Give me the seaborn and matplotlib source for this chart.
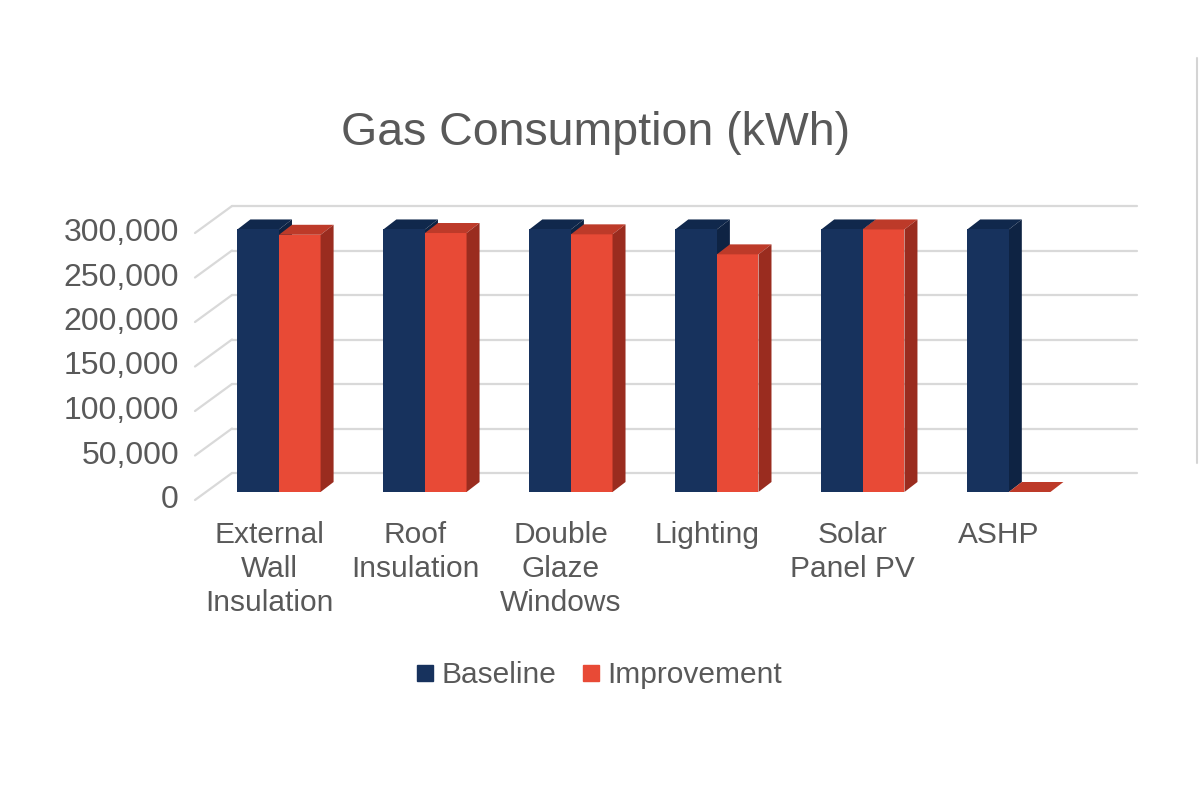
import numpy as np
import pandas as pd
import matplotlib
matplotlib.use('Agg')
import matplotlib.pyplot as plt
import seaborn as sns
from matplotlib.transforms import offset_copy, IdentityTransform
from matplotlib.patches import Polygon
from matplotlib.lines import Line2D

# data
categories = ['External\nWall\nInsulation', 'Roof\nInsulation', 'Double\nGlaze\nWindows',
              'Lighting', 'Solar\nPanel PV', 'ASHP']
series = ['Baseline', 'Improvement']
baseline = [295000, 295000, 295000, 295000, 295000, 295000]
improvement = [289000, 291000, 289500, 267000, 295000, 0]
yticks = [0, 50000, 100000, 150000, 200000, 250000, 300000]
ytick_labels = ['0', '50,000', '100,000', '150,000', '200,000', '250,000', '300,000']

# colours: front face, top face, side face
front = {'Baseline': '#17325d', 'Improvement': '#e84a36'}
top = {'Baseline': '#10284c', 'Improvement': '#bd3a29'}
side = {'Baseline': '#0e2343', 'Improvement': '#9a2c1f'}
grey = '#595959'
gridc = '#d9d9d9'

sns.set_theme(style='white')
plt.rcParams['font.family'] = ['Liberation Sans', 'DejaVu Sans']

df = pd.DataFrame({
    'category': categories * 2,
    'value': baseline + improvement,
    'series': [series[0]] * len(categories) + [series[1]] * len(categories),
})

fig = plt.figure(figsize=(12, 8), dpi=100)
ax = fig.add_axes([206 / 1200, (800 - 492) / 800, 905 / 1200, 267 / 800])
sns.barplot(data=df, x='category', y='value', hue='series', palette=front,
            width=0.57, saturation=1, ax=ax, legend=False, linewidth=0, zorder=2)
ax.set_xlim(-0.5, 5.7)
ax.set_ylim(0, 300000)
ax.set_axis_off()

# back wall grid + floor diagonals (3d look)
ygrid = ax.get_yaxis_transform()
back = offset_copy(ygrid, fig=fig, x=26, y=19, units='dots')
for v, lab in zip(yticks, ytick_labels):
    ax.plot([0, 1], [v, v], transform=back, color=gridc, lw=1.6, zorder=0, clip_on=False)
    x0, y0 = ygrid.transform((0, v))
    ax.add_line(Line2D([x0 - 11, x0 + 26], [y0 - 8, y0 + 19], transform=IdentityTransform(),
                       color=gridc, lw=1.6, zorder=0, clip_on=False))
    ax.text(0, v, lab, transform=offset_copy(ygrid, fig=fig, x=-27, y=-8, units='dots'),
            ha='right', va='center', fontsize=23, color=grey)

# top and side faces of the bars
dx, dy = 13, 10
for name, cont in zip(series, ax.containers):
    z = 1.9 if name == 'Baseline' else 3
    for bar in cont:
        x, w, h = bar.get_x(), bar.get_width(), bar.get_height()
        (xl, yb), (xr, yt) = ax.transData.transform([(x, 0), (x + w, h)])
        tp = [(xl, yt), (xr, yt), (xr + dx, yt + dy), (xl + dx, yt + dy)]
        sd = [(xr, yb), (xr + dx, yb + dy), (xr + dx, yt + dy), (xr, yt)]
        ax.add_patch(Polygon(tp, closed=True, transform=IdentityTransform(),
                             fc=top[name], lw=0, zorder=z, clip_on=False))
        ax.add_patch(Polygon(sd, closed=True, transform=IdentityTransform(),
                             fc=side[name], lw=0, zorder=z, clip_on=False))
    if name == 'Improvement':
        for bar in cont:
            bar.set_zorder(2.5)

# category labels on the front floor edge
xlab = offset_copy(ax.get_xaxis_transform(), fig=fig, x=-10, y=-29, units='dots')
for i, lab in enumerate(categories):
    ax.text(i, 0, lab, transform=xlab, ha='center', va='top', fontsize=21.5,
            color=grey, linespacing=1.27)

fig.text(0.496, 1 - 133 / 800, 'Gas Consumption (kWh)', ha='center', va='center',
         fontsize=33.5, color=grey)

handles = [Line2D([], [], marker='s', ls='', markersize=11, color=front[s]) for s in series]
leg = fig.legend(handles, series, loc='center', bbox_to_anchor=(0.497, 1 - 675 / 800), ncol=2,
                 frameon=False, fontsize=21.5, handletextpad=0.05, columnspacing=0.65,
                 handlelength=1.0)
for t in leg.get_texts():
    t.set_color(grey)

# thin grey edge on the right of the screenshot
fig.add_artist(Line2D([1197 / 1200] * 2, [1 - 58 / 800, 1 - 463 / 800], color='#d4d4d4', lw=1.5))

fig.savefig('out.png', dpi=100)
